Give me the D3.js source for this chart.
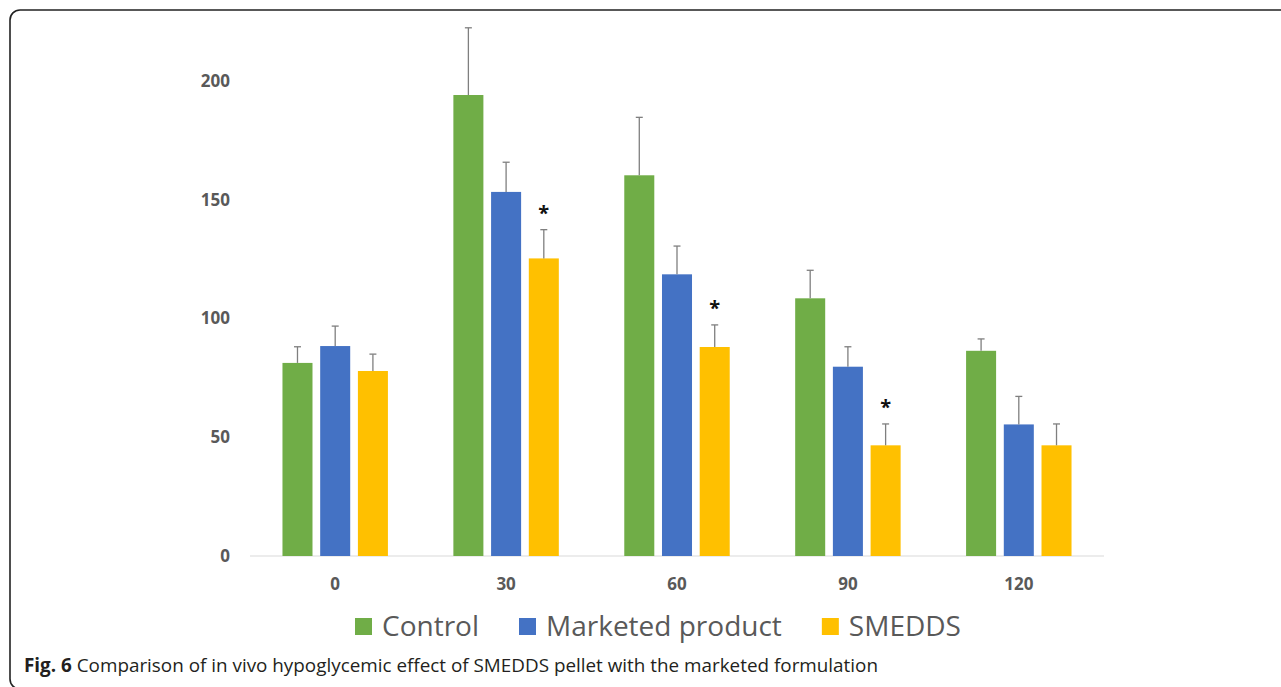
<!DOCTYPE html>
<html lang="en">
<head>
    <meta charset="utf-8">
    <title>Fig. 6</title>
    <script type="text/javascript" src="https://d3js.org/d3.v7.min.js"></script>
    <style>
        body{
            margin: 0;
            background: white;
        }
        text{
            font-family: "Open Sans", sans-serif;
        }
        .axis text{
            font-size: 17px;
            font-weight: bold;
            fill: #595959;
        }
        .axis path, .axis line{
            display: none;
        }
    </style>
</head>
<body>
    <div id="bar-chart"></div>
    <script type="text/javascript">
        // data
        const timePoints = ["0", "30", "60", "90", "120"];
        const seriesNames = ["Control", "Marketed product", "SMEDDS"];
        const control = [81.3, 194.1, 160.3, 108.5, 86.4];
        const controlErr = [6.8, 28.3, 24.4, 11.8, 5.0];
        const marketed = [88.4, 153.3, 118.6, 79.7, 55.4];
        const marketedErr = [8.4, 12.5, 11.9, 8.4, 11.8];
        const smedds = [77.9, 125.3, 88.0, 46.6, 46.6];
        const smeddsErr = [7.1, 12.1, 9.3, 9.0, 9.0];
        const smeddsStar = [false, true, true, true, false];
        const yTicks = [0, 50, 100, 150, 200];

        const width = 1281;
        const height = 687;
        const margin = {left: 250, right: 177, top: 81, bottom: 131};
        const colors = ["#70ad47", "#4472c4", "#ffc000"];

        const svg = d3.select("#bar-chart")
            .append("svg")
            .attr("width", width)
            .attr("height", height);

        // frame round the figure (runs off the right and bottom edges)
        svg.append("rect")
            .attr("x", 10)
            .attr("y", 10)
            .attr("width", 1300)
            .attr("height", 679)
            .attr("rx", 10)
            .attr("fill", "none")
            .attr("stroke", "#222")
            .attr("stroke-width", 1.6);

        // build rows: one per time point
        const dataset = timePoints.map((t, i) => ({
            time: t,
            values: [
                {name: seriesNames[0], value: control[i], err: controlErr[i], star: false},
                {name: seriesNames[1], value: marketed[i], err: marketedErr[i], star: false},
                {name: seriesNames[2], value: smedds[i], err: smeddsErr[i], star: smeddsStar[i]}
            ]
        }));

        const x0 = d3.scaleBand()
            .domain(timePoints)
            .range([margin.left, width - margin.right])
            .paddingInner(0.383)
            .paddingOuter(0.19);

        const x1 = d3.scaleBand()
            .domain(seriesNames)
            .range([0, x0.bandwidth()])
            .paddingInner(0.204);

        const color = d3.scaleOrdinal()
            .domain(seriesNames)
            .range(colors);

        const y = d3.scaleLinear()
            .domain([0, 200])
            .range([height - margin.bottom, margin.top]);

        const y0 = y(0);

        // axes
        svg.append("g")
            .attr("class", "axis y")
            .attr("transform", `translate(${margin.left}, 0)`)
            .call(d3.axisLeft(y).tickValues(yTicks).tickSize(0).tickPadding(20));

        svg.append("g")
            .attr("class", "axis x")
            .attr("transform", `translate(0, ${y0})`)
            .call(d3.axisBottom(x0).tickSize(0).tickPadding(22));

        svg.append("line")
            .attr("x1", margin.left)
            .attr("x2", width - margin.right)
            .attr("y1", y0)
            .attr("y2", y0)
            .attr("stroke", "#d9d9d9")
            .attr("stroke-width", 1);

        // bars
        const groups = svg.append("g")
            .attr("class", "bars")
            .selectAll("g")
            .data(dataset)
            .enter()
            .append("g")
                .attr("transform", d => `translate(${x0(d.time)}, 0)`);

        groups.selectAll("rect")
            .data(d => d.values)
            .enter()
            .append("rect")
                .attr("x", d => x1(d.name))
                .attr("y", d => y(d.value))
                .attr("width", x1.bandwidth())
                .attr("height", d => y0 - y(d.value))
                .attr("fill", d => color(d.name));

        // error bars (upper only)
        const errs = groups.selectAll("g.err")
            .data(d => d.values)
            .enter()
            .append("g")
                .attr("class", "err")
                .attr("stroke", "#7f7f7f")
                .attr("stroke-width", 1.3);

        errs.append("line")
            .attr("x1", d => x1(d.name) + x1.bandwidth() / 2)
            .attr("x2", d => x1(d.name) + x1.bandwidth() / 2)
            .attr("y1", d => y(d.value))
            .attr("y2", d => y(d.value + d.err));

        errs.append("line")
            .attr("x1", d => x1(d.name) + x1.bandwidth() / 2 - 3.5)
            .attr("x2", d => x1(d.name) + x1.bandwidth() / 2 + 3.5)
            .attr("y1", d => y(d.value + d.err))
            .attr("y2", d => y(d.value + d.err));

        // significance stars
        groups.selectAll("text.star")
            .data(d => d.values.filter(v => v.star))
            .enter()
            .append("text")
                .attr("class", "star")
                .attr("x", d => x1(d.name) + x1.bandwidth() / 2)
                .attr("y", d => y(d.value + d.err) - 10)
                .attr("text-anchor", "middle")
                .attr("font-size", 20)
                .attr("font-weight", "bold")
                .attr("fill", "#111")
                .text("*");

        // legend
        const legend = svg.append("g")
            .attr("class", "legend");
        let lx = 355;
        seriesNames.forEach(function(name) {
            legend.append("rect")
                .attr("x", lx)
                .attr("y", 618)
                .attr("width", 17)
                .attr("height", 17)
                .attr("fill", color(name));
            const t = legend.append("text")
                .attr("x", lx + 27)
                .attr("y", 636)
                .attr("font-size", 28)
                .attr("fill", "#595959")
                .text(name);
            lx += 27 + t.node().getComputedTextLength() + 40;
        });

        // caption
        const caption = svg.append("text")
            .attr("x", 24)
            .attr("y", 672)
            .attr("font-size", 19)
            .attr("fill", "#231f20")
            .attr("textLength", 854)
            .attr("lengthAdjust", "spacingAndGlyphs");
        caption.append("tspan")
            .attr("font-weight", "bold")
            .text("Fig. 6");
        caption.append("tspan")
            .text(" Comparison of in vivo hypoglycemic effect of SMEDDS pellet with the marketed formulation");
    </script>
</body>
</html>
